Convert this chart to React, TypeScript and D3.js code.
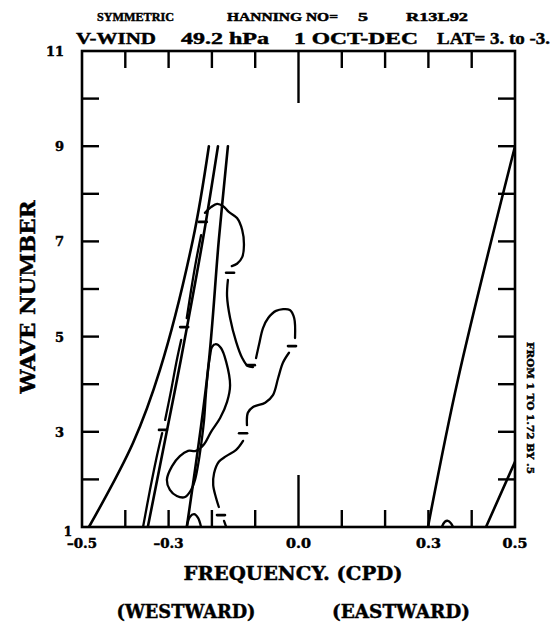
import React from "react";
import * as d3 from "d3";

// ---------- data ----------
const FREQ_DOMAIN: [number, number] = [-0.5, 0.5];
const WAVE_DOMAIN: [number, number] = [1, 11];

const xMinorTicks = [-0.4, -0.3, -0.2, -0.1, 0.1, 0.2, 0.3, 0.4];
const xMajorTicks = [0.0];
const xTickLabels = [
  { v: -0.5, t: "–0.5" },
  { v: -0.3, t: "–0.3" },
  { v: 0.0, t: "0.0" },
  { v: 0.3, t: "0.3" },
  { v: 0.5, t: "0.5" },
];
const yTicks = [2, 3, 4, 5, 6, 7, 8, 9, 10];
const yTickLabels = [11, 9, 7, 5, 3];
const yBottomLabel = 1;

// dispersion curves [frequency, wavenumber]
const curveA = [[-0.484, 1], [-0.382, 2.77], [-0.32, 4.3], [-0.244, 7.03], [-0.207, 9]];
const curveB = [[-0.348, 1], [-0.3, 3.2], [-0.272, 4.5], [-0.221, 7.03], [-0.186, 9]];
const curveC = [[-0.258, 1], [-0.209, 4.3], [-0.184, 7.03], [-0.163, 9]];
const curveD = [[0.299, 1], [0.368, 4.09], [0.5, 9.0]];
const curveE = [[0.433, 1], [0.5, 2.37]];

// contour segments (broken at labels)
const contourSegments = [
  [[-0.359, 1], [-0.343, 1.78], [-0.329, 2.41], [-0.315, 2.97]],
  [[-0.308, 3.25], [-0.294, 3.88], [-0.281, 4.51], [-0.271, 4.93]],
  [[-0.258, 5.39], [-0.248, 5.98], [-0.237, 6.57], [-0.225, 7.13]],
  [[-0.216, 7.6], [-0.202, 7.72], [-0.188, 7.79], [-0.174, 7.74], [-0.161, 7.62], [-0.142, 7.49],
   [-0.13, 7.24], [-0.126, 6.92], [-0.13, 6.67], [-0.142, 6.53], [-0.154, 6.48]],
  [[-0.163, 6.19], [-0.165, 5.85], [-0.158, 5.39], [-0.144, 4.89], [-0.13, 4.55], [-0.117, 4.38], [-0.105, 4.36]],
  [[-0.098, 4.55], [-0.091, 4.84], [-0.082, 5.18], [-0.07, 5.39], [-0.052, 5.54], [-0.02, 5.56],
   [-0.01, 5.39], [-0.008, 4.97]],
  [[-0.022, 4.66], [-0.036, 4.45], [-0.047, 4.13], [-0.059, 3.77], [-0.077, 3.61], [-0.105, 3.52],
   [-0.117, 3.4], [-0.119, 3.14]],
  [[-0.128, 2.81], [-0.144, 2.62], [-0.167, 2.49], [-0.184, 2.37], [-0.195, 2.13], [-0.197, 1.88],
   [-0.191, 1.63], [-0.184, 1.42]],
  [[-0.172, 1.13], [-0.167, 1]],
  [[-0.258, 1], [-0.251, 1.21], [-0.241, 1.27], [-0.232, 1.19], [-0.225, 1]],
  [[0.331, 1], [0.338, 1.11], [0.345, 1.13], [0.352, 1.08], [0.357, 1]],
];
const closedContour = [
  [-0.2, 4.78], [-0.191, 4.84], [-0.179, 4.76], [-0.167, 4.47], [-0.158, 3.98], [-0.165, 3.63],
  [-0.181, 3.29], [-0.202, 3.0], [-0.218, 2.74], [-0.237, 2.6], [-0.255, 2.6], [-0.274, 2.49],
  [-0.292, 2.28], [-0.304, 1.99], [-0.297, 1.78], [-0.281, 1.65], [-0.262, 1.63], [-0.248, 1.78],
  [-0.239, 1.99], [-0.232, 2.3], [-0.225, 2.72], [-0.218, 3.25], [-0.214, 3.77], [-0.209, 4.3],
  [-0.204, 4.61],
];
const contourLabels = [
  [-0.313, 3.04], [-0.264, 5.2], [-0.221, 7.41], [-0.158, 6.34],
  [-0.015, 4.8], [-0.128, 2.97], [-0.179, 1.25], [-0.11, 4.4],
];

const titleLine1 = [
  { t: "SYMMETRIC", a: 97, b: 174 },
  { t: "HANNING NO=", a: 227, b: 338 },
  { t: "5", a: 358, b: 368 },
  { t: "R13L92", a: 406, b: 468 },
];
const titleLine2 = [
  { t: "V-WIND", a: 76, b: 156 },
  { t: "49.2 hPa", a: 181, b: 269 },
  { t: "1 OCT-DEC", a: 294, b: 418 },
  { t: "LAT= 3. to -3.", a: 437, b: 550 },
];

const FONT = "'DejaVu Serif', serif";
const TITLE_FONT = "'Liberation Serif', 'DejaVu Serif', serif";

export default function App() {
  const L = 82, R = 515, T = 51, B = 527;
  const x = d3.scaleLinear().domain(FREQ_DOMAIN).range([L, R]);
  const y = d3.scaleLinear().domain(WAVE_DOMAIN).range([B, T]);
  const smooth = d3
    .line<number[]>()
    .x((d) => x(d[0]))
    .y((d) => y(d[1]))
    .curve(d3.curveCatmullRom.alpha(0.5));
  const closed = d3
    .line<number[]>()
    .x((d) => x(d[0]))
    .y((d) => y(d[1]))
    .curve(d3.curveCatmullRomClosed.alpha(0.5));

  const tickLen = 17;
  const longTick = 52;
  const ink = { stroke: "#000", strokeWidth: 0.45 };

  return (
    <svg
      width={558}
      height={626}
      style={{ position: "absolute", left: 0, top: 0, background: "#fff" }}
      fontFamily={FONT}
      fontWeight="bold"
    >
      <rect x={0} y={0} width={558} height={626} fill="#fff" />
      <defs>
        <clipPath id="frameClip">
          <rect x={L} y={T} width={R - L} height={B - T} />
        </clipPath>
      </defs>

      {/* titles */}
      <g {...ink} fontFamily={TITLE_FONT}>
        {titleLine1.map((w, i) => (
          <text key={"t1" + i} x={w.a} y={21} fontSize={12} textLength={w.b - w.a} lengthAdjust="spacingAndGlyphs">
            {w.t}
          </text>
        ))}
        {titleLine2.map((w, i) => (
          <text key={"t2" + i} x={w.a} y={44} fontSize={17} textLength={w.b - w.a} lengthAdjust="spacingAndGlyphs">
            {w.t}
          </text>
        ))}
      </g>

      {/* curves and contours */}
      <g clipPath="url(#frameClip)" fill="none" stroke="#000" strokeLinecap="round" strokeLinejoin="round">
        {[curveA, curveB, curveC, curveD, curveE].map((c, i) => (
          <path key={"c" + i} d={smooth(c as number[][]) || ""} strokeWidth={2.6} />
        ))}
        {contourSegments.map((c, i) => (
          <path key={"s" + i} d={smooth(c as number[][]) || ""} strokeWidth={2.3} />
        ))}
        <path d={closed(closedContour as number[][]) || ""} strokeWidth={2.3} />
        {contourLabels.map((p, i) => (
          <line key={"l" + i} x1={x(p[0]) - 4} x2={x(p[0]) + 4} y1={y(p[1])} y2={y(p[1])} strokeWidth={2.6} />
        ))}
      </g>

      {/* frame */}
      <rect x={L} y={T} width={R - L} height={B - T} fill="none" stroke="#000" strokeWidth={2.6} />

      {/* ticks */}
      <g stroke="#000" strokeWidth={2.4}>
        {xMinorTicks.map((v) => (
          <g key={"xt" + v}>
            <line x1={x(v)} x2={x(v)} y1={B} y2={B - tickLen} />
            <line x1={x(v)} x2={x(v)} y1={T} y2={T + tickLen} />
          </g>
        ))}
        {xMajorTicks.map((v) => (
          <g key={"xM" + v}>
            <line x1={x(v)} x2={x(v)} y1={B} y2={B - longTick} />
            <line x1={x(v)} x2={x(v)} y1={T} y2={T + longTick} />
          </g>
        ))}
        {yTicks.map((v) => (
          <g key={"yt" + v}>
            <line x1={L} x2={L + tickLen} y1={y(v)} y2={y(v)} />
            <line x1={R} x2={R - tickLen} y1={y(v)} y2={y(v)} />
          </g>
        ))}
      </g>

      <g {...ink}>
        {/* tick labels */}
        {xTickLabels.map((d) => (
          <text
            key={"xl" + d.v}
            x={x(d.v)}
            y={548}
            fontSize={12}
            textAnchor="middle"
            textLength={d.t.length > 3 ? 30 : 25}
            lengthAdjust="spacingAndGlyphs"
          >
            {d.t}
          </text>
        ))}
        {yTickLabels.map((v) => (
          <text key={"yl" + v} x={64} y={y(v) + 5} fontSize={13} textAnchor="end">
            {v}
          </text>
        ))}
        <text x={72} y={y(yBottomLabel) + 9} fontSize={12} textAnchor="end">
          {yBottomLabel}
        </text>

        {/* axis titles */}
        <text
          transform={`translate(35, 297) rotate(-90)`}
          fontSize={21}
          textAnchor="middle"
          textLength={193}
          lengthAdjust="spacingAndGlyphs"
        >
          WAVE NUMBER
        </text>
        <text x={293} y={580} fontSize={19} textAnchor="middle" textLength={219} lengthAdjust="spacingAndGlyphs">
          FREQUENCY. (CPD)
        </text>
        <text x={186} y={618} fontSize={19} textAnchor="middle" textLength={139} lengthAdjust="spacingAndGlyphs">
          (WESTWARD)
        </text>
        <text x={401} y={618} fontSize={19} textAnchor="middle" textLength={138} lengthAdjust="spacingAndGlyphs">
          (EASTWARD)
        </text>
        <text
          transform={`translate(527, 408) rotate(90)`}
          fontSize={10}
          textAnchor="middle"
          textLength={132}
          lengthAdjust="spacingAndGlyphs"
        >
          FROM 1 TO 1.72 BY .5
        </text>
      </g>
    </svg>
  );
}
